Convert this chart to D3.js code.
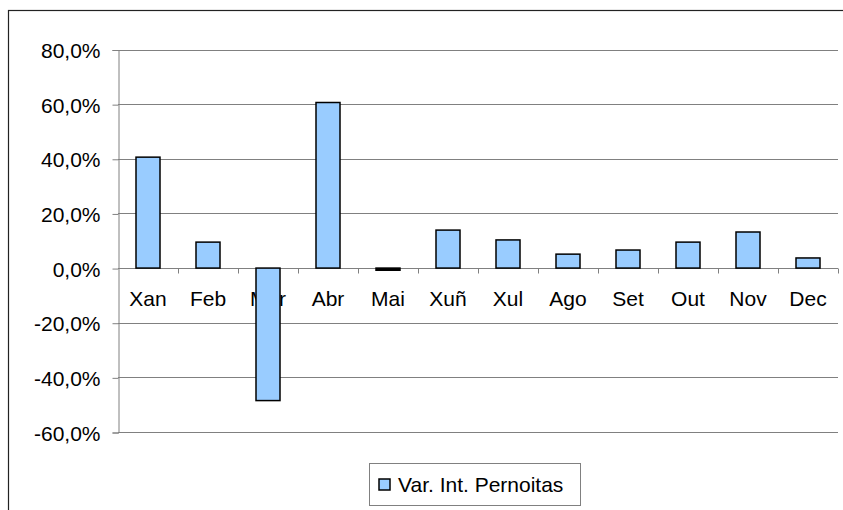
<!DOCTYPE html>
<html>
<head>
<meta charset="utf-8">
<script src="https://cdn.jsdelivr.net/npm/d3@7"></script>
<style>
  html, body { margin: 0; padding: 0; background: #fff; overflow: hidden; }
  svg { display: block; }
  * { font-family: Arial, "Liberation Sans", Helvetica, sans-serif; }
</style>
</head>
<body>
<div class="container"></div>
<script>
const months = ["Xan", "Feb", "Mar", "Abr", "Mai", "Xuñ", "Xul", "Ago", "Set", "Out", "Nov", "Dec"];
const values = [40.6, 9.5, -48.5, 60.6, -0.8, 13.9, 10.3, 5.1, 6.6, 9.5, 13.2, 3.7];
const yTicks = [80, 60, 40, 20, 0, -20, -40, -60];
const seriesName = "Var. Int. Pernoitas";

const width = 843;
const height = 510;
const plot = { left: 118, right: 838, top: 49.5, bottom: 432 };

const svg = d3.select(".container")
  .append("svg")
  .attr("width", width)
  .attr("height", height)
  .attr("viewBox", `0 0 ${width} ${height}`);

// outer chart frame (runs off the right and bottom)
svg.append("rect")
  .attr("x", 8.5)
  .attr("y", 10.5)
  .attr("width", 860)
  .attr("height", 520)
  .attr("fill", "#fff")
  .attr("stroke", "#222")
  .attr("stroke-width", 1.2);

const x = d3.scaleBand()
  .domain(months)
  .range([plot.left, plot.right])
  .padding(0);

const y = d3.scaleLinear()
  .domain([-60, 80])
  .range([plot.bottom, plot.top]);

// excel style: comma decimal, plain hyphen for negatives
const fmt = v => d3.format(".1f")(v).replace("\u2212", "-").replace(".", ",") + "%";

// gridlines
svg.append("g")
  .selectAll("line")
  .data(yTicks.filter(t => t !== 0))
  .join("line")
  .attr("x1", plot.left)
  .attr("x2", plot.right)
  .attr("y1", d => Math.round(y(d)) + 0.5)
  .attr("y2", d => Math.round(y(d)) + 0.5)
  .attr("stroke", "#808080")
  .attr("stroke-width", 1);

// y axis
const yAxis = svg.append("g")
  .attr("transform", `translate(${plot.left + 0.5},0.5)`)
  .call(d3.axisLeft(y).tickValues(yTicks).tickSize(6).tickPadding(12).tickFormat(fmt));
yAxis.select(".domain").attr("stroke", "#808080");
yAxis.selectAll(".tick line").attr("stroke", "#808080");
yAxis.selectAll(".tick text")
  .attr("fill", "#000")
  .style("font-size", "21px")
  .attr("dy", "0.36em");

// x axis labels (bars are drawn on top of them)
svg.append("g")
  .selectAll("text")
  .data(months)
  .join("text")
  .attr("x", d => x(d) + x.bandwidth() / 2)
  .attr("y", 306)
  .attr("text-anchor", "middle")
  .style("font-size", "21px")
  .attr("fill", "#000")
  .text(d => d);

// zero line and category ticks
const zeroY = Math.round(y(0)) + 0.5;
svg.append("line")
  .attr("x1", plot.left)
  .attr("x2", plot.right)
  .attr("y1", zeroY)
  .attr("y2", zeroY)
  .attr("stroke", "#808080");

svg.append("g")
  .selectAll("line")
  .data(months.slice(1).map(m => x(m)).concat([plot.right]))
  .join("line")
  .attr("x1", d => Math.round(d) + 0.5)
  .attr("x2", d => Math.round(d) + 0.5)
  .attr("y1", zeroY)
  .attr("y2", zeroY + 5)
  .attr("stroke", "#808080");

// bars
const barW = x.bandwidth() * 0.4;
svg.append("g")
  .selectAll("rect")
  .data(months.map((m, i) => ({ m, v: values[i] })))
  .join("rect")
  .attr("x", d => x(d.m) + (x.bandwidth() - barW) / 2)
  .attr("y", d => y(Math.max(0, d.v)))
  .attr("width", barW)
  .attr("height", d => Math.abs(y(d.v) - y(0)))
  .attr("fill", d => Math.abs(y(d.v) - y(0)) < 3 ? "#000" : "#99CCFF")
  .attr("stroke", "#000")
  .attr("stroke-width", 1.5);

// legend
const legend = svg.append("g");
legend.append("rect")
  .attr("x", 369.5)
  .attr("y", 463.5)
  .attr("width", 211)
  .attr("height", 42)
  .attr("fill", "#fff")
  .attr("stroke", "#808080")
  .attr("stroke-width", 1);
legend.append("rect")
  .attr("x", 379)
  .attr("y", 479)
  .attr("width", 11)
  .attr("height", 11)
  .attr("fill", "#99CCFF")
  .attr("stroke", "#000")
  .attr("stroke-width", 1.5);
legend.append("text")
  .attr("x", 398)
  .attr("y", 492)
  .style("font-size", "21px")
  .attr("fill", "#000")
  .text(seriesName);
</script>
</body>
</html>
